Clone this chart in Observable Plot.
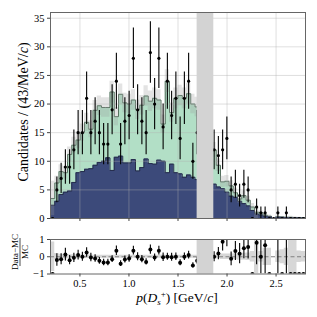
<!DOCTYPE html>
<html><head><meta charset="utf-8">
<script src="https://cdn.jsdelivr.net/npm/d3@7"></script>
<script src="https://cdn.jsdelivr.net/npm/@observablehq/plot@0.6"></script>
<style>
body{margin:0;background:#fff;}
#wrap{position:relative;width:317px;height:317px;font-family:"Liberation Serif",serif;}
#wrap svg{display:block;}
</style></head><body><div id="wrap"></div>
<script>
// Histogram definition: 60 bins over [0.2, 2.8] GeV/c
const histRange = [0.2, 2.8];
const nBins = 60;
const dataCounts = [0,5,7,9,9,12,15,15,21,15,17,15,13,13,19,24,13,17,18,28,19,17,15,29,20,28,16,24,18,21,14,21,24,10,15,
  14,13,12,
  12,11,12,14,5,6,4,6,5,0,2,1,1,0,0,1,0,1,0,0,0,0];
const mcTotal = [3.5,6.2,8.2,8.0,11.2,12.8,13.7,15.0,16.8,15.6,18.9,19.7,19.4,19.4,22.1,17.8,21.7,20.2,20.0,20.7,19.0,19.8,21.4,20.5,21.0,20.7,16.5,24.0,18.5,21.0,21.5,21.0,21.8,20.0,19.5,
  18.5,17.0,15.0,
  12.0,9.3,6.4,6.5,5.7,4.5,3.4,4.0,3.2,2.0,1.1,1.0,0.6,0.4,0.0,0.3,0.25,0.2,0.2,0.15,0.15,0.1];
const mcBlue = [2.3,3.0,4.2,4.6,4.8,6.3,8.0,8.2,8.6,8.7,9.3,9.8,10.0,10.6,8.4,10.7,10.9,9.7,9.7,10.3,8.3,8.9,10.4,9.6,9.5,10.2,10.0,8.0,9.5,8.0,7.8,7.2,7.6,7.2,6.8,
  6.5,6.2,6.0,
  6.0,5.5,5.2,4.6,3.9,3.7,3.0,2.6,2.2,1.4,0.8,0.6,0.4,0.3,0.0,0.2,0.2,0.15,0.15,0.1,0.1,0.05];
const mcErr = [3.0,1.2,1.2,1.1,1.3,1.4,1.5,1.5,1.6,1.5,1.7,1.7,1.7,1.7,1.9,1.6,1.8,1.7,1.7,1.8,1.7,1.7,1.8,1.8,1.8,1.8,1.6,2.0,1.7,1.8,1.8,1.8,1.8,1.7,1.7,
  1.6,1.5,1.4,
  1.3,1.1,1.0,1.0,0.9,0.8,0.7,0.8,0.7,0.6,1.1,0.3,0.3,0.2,0,0.1,0.1,0.1,0.2,0.15,0.05,0.03];
const vetoBand = [1.695, 1.865];
const xTicks = [0.5, 1.0, 1.5, 2.0, 2.5];
const yTicks = [0, 5, 10, 15, 20, 25, 30, 35];
const rTicks = [-1, 0, 1];

const bw = (histRange[1] - histRange[0]) / nBins;
const edges = d3.range(nBins + 1).map(k => histRange[0] + k * bw);
const bins = dataCounts.map((n, k) => ({
  lo: edges[k], hi: edges[k + 1], c: (edges[k] + edges[k + 1]) / 2,
  n, tot: mcTotal[k], blue: mcBlue[k], err: mcErr[k]
}));
const steps = bins.map(b => ({
  x: b.lo, tot: b.tot, blue: b.blue,
  up: b.tot + b.err, dn: Math.max(0, b.tot - b.err),
  rr: b.tot > 0 ? Math.min(1.5, b.err / b.tot) : 0
}));
steps.push({...steps[steps.length - 1], x: edges[nBins]});
const rbins = bins.filter(b => b.tot > 0).map(b => ({
  c: b.c, r: b.n / b.tot - 1, e: Math.sqrt(b.n) / b.tot
}));

const font = {fontFamily: "'Liberation Serif', serif", fontSize: "10.5px", color: "#000", background: "transparent"};

const main = Plot.plot({
  width: 317, height: 226, marginLeft: 50, marginRight: 12, marginTop: 12, marginBottom: 8,
  x: {domain: histRange}, y: {domain: [0, 36]},
  style: font,
  marks: [
    Plot.areaY(steps, {x: "x", y: "tot", curve: "step-after", fill: "#b2dfc6"}),
    Plot.lineY(steps, {x: "x", y: "tot", curve: "step-after", stroke: "#56705f", strokeWidth: 1}),
    Plot.areaY(steps, {x: "x", y: "blue", curve: "step-after", fill: "#3c4a7a"}),
    Plot.lineY(steps, {x: "x", y: "blue", curve: "step-after", stroke: "#262e4c", strokeWidth: 1}),
    Plot.areaY(steps, {x: "x", y1: "dn", y2: "up", curve: "step-after", fill: "#9a9a9a", fillOpacity: 0.28}),
    Plot.ruleY(yTicks.filter(t => t > 0), {stroke: "#b0b0b0", strokeOpacity: 0.4}),
    Plot.ruleX(xTicks, {stroke: "#b0b0b0", strokeOpacity: 0.4}),
    Plot.ruleX(bins, {x: "c", y1: b => b.n - Math.sqrt(b.n), y2: b => b.n + Math.sqrt(b.n), stroke: "#000", strokeWidth: 1.1, clip: true}),
    Plot.dot(bins, {x: "c", y: "n", r: 1.6, fill: "#000", stroke: "none", clip: true}),
    Plot.rect([vetoBand], {x1: d => d[0], x2: d => d[1], y1: 0, y2: 36, fill: "#d3d3d3"}),
    Plot.frame({stroke: "#666"}),
    Plot.axisY(yTicks, {tickSize: 3, tickPadding: 3, label: null, stroke: "#444"}),
    Plot.axisX(xTicks, {tickSize: 3, tickFormat: () => "", label: null, stroke: "#444"})
  ]
});

const ratio = Plot.plot({
  width: 317, height: 91, marginLeft: 50, marginRight: 12, marginTop: 13, marginBottom: 43.5,
  x: {domain: histRange}, y: {domain: [-1, 1]},
  style: font,
  marks: [
    Plot.areaY(steps, {x: "x", y1: d => -d.rr, y2: d => d.rr, curve: "step-after", fill: "#bdbdbd", fillOpacity: 0.6, clip: true}),
    Plot.ruleY([0], {stroke: "#808080", strokeDasharray: "4,2.5", strokeWidth: 1}),
    Plot.ruleX(rbins, {x: "c", y1: d => d.r - d.e, y2: d => d.r + d.e, stroke: "#000", strokeWidth: 1.1, clip: true}),
    Plot.dot(rbins, {x: "c", y: "r", r: 2, fill: "#000", stroke: "none", clip: true}),
    Plot.rect([vetoBand], {x1: d => d[0], x2: d => d[1], y1: -1, y2: 1, fill: "#d3d3d3"}),
    Plot.frame({stroke: "#666"}),
    Plot.axisY(rTicks, {tickSize: 3, tickPadding: 3, label: null, stroke: "#444", tickFormat: d => d < 0 ? "\u22121" : String(d)}),
    Plot.axisX(xTicks, {tickSize: 3, tickPadding: 3, label: null, stroke: "#444", tickFormat: d => d.toFixed(1)})
  ]
});

const wrap = document.getElementById("wrap");
wrap.appendChild(main);
wrap.appendChild(ratio);

// Axis titles
const ms = d3.select(main);
const yl = ms.append("text")
  .attr("transform", "translate(28,112) rotate(-90)")
  .attr("text-anchor", "middle")
  .style("font-family", "'Liberation Serif', serif").style("font-size", "14px").attr("fill", "#000");
yl.append("tspan").text("Candidates / (43/MeV/");
yl.append("tspan").attr("font-style", "italic").text("c");
yl.append("tspan").text(")");

const rs = d3.select(ratio);
const fr = rs.append("g").attr("transform", "translate(0,26) rotate(-90)")
  .style("font-family", "'Liberation Serif', serif").style("font-size", "9px").attr("fill", "#000");
fr.append("text").attr("x", 0).attr("y", 17.5).attr("text-anchor", "middle").text("Data\u2212MC");
fr.append("line").attr("x1", -14).attr("x2", 14).attr("y1", 20).attr("y2", 20).attr("stroke", "#000").attr("stroke-width", 0.7);
fr.append("text").attr("x", 0).attr("y", 27.5).attr("text-anchor", "middle").text("MC");

const xl = rs.append("text").attr("x", 177).attr("y", 75.5).attr("text-anchor", "middle")
  .style("font-family", "'Liberation Serif', serif").style("font-size", "13.5px").attr("fill", "#000");
xl.append("tspan").attr("font-style", "italic").text("p");
xl.append("tspan").text("(");
xl.append("tspan").attr("font-style", "italic").text("D");
xl.append("tspan").attr("font-style", "italic").attr("font-size", "9px").attr("dy", "3").text("s");
xl.append("tspan").attr("font-size", "9px").attr("dy", "-7.5").text("+");
xl.append("tspan").attr("dy", "4.5").text(") [GeV/");
xl.append("tspan").attr("font-style", "italic").text("c");
xl.append("tspan").text("]");
</script></body></html>
